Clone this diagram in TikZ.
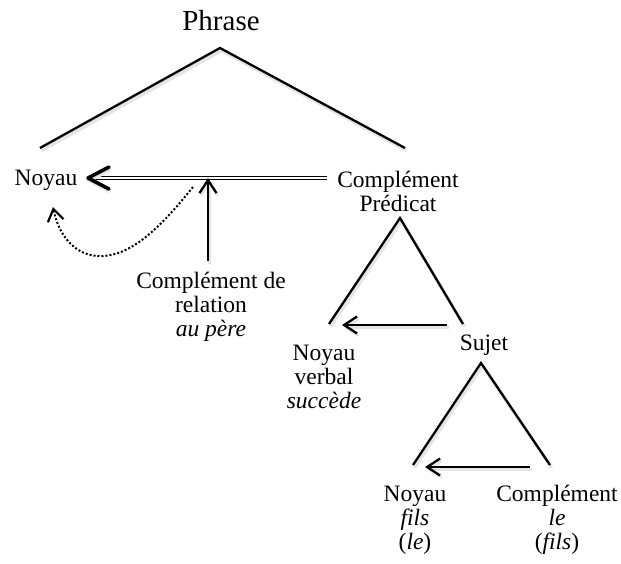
\documentclass[tikz,border=0pt]{standalone}
\usepackage{fontspec}
\setmainfont{Liberation Serif}
\usetikzlibrary{arrows.meta,calc}
\begin{document}
\begin{tikzpicture}[x=1pt,y=-1pt,
  lbl/.style={font=\fontsize{23.5}{24}\selectfont, align=center, inner sep=0pt},
  big/.style={font=\fontsize{29}{29}\selectfont, inner sep=0pt},
  soft/.style={preaction={draw=black!10, line width=3.6pt,
    transform canvas={shift={(1.5pt,-2.5pt)}}}},
  branch/.style={soft, line width=2.3pt},
  link/.style={soft, line width=2.3pt,
    -{Straight Barb[length=13pt,width=17pt,line width=2.3pt]}},
  rel/.style={line width=1pt, double, double distance=1.6pt},
  dep/.style={line width=2pt, dash pattern=on 2pt off 2pt,
    -{Straight Barb[length=12pt,width=16pt,line width=2.2pt]}}]
\useasboundingbox (0,0) rectangle (621,563);

% labels
\node[big] (phrase) at (221,21) {Phrase};
\node[lbl] (noyau) at (46,180) {Noyau};
\node[lbl] (cp) at (398,191) {Complément\\Prédicat};
\node[lbl] (crel) at (211,307) {Complément de\\relation\\\textit{au père}};
\node[lbl] (nv) at (324,377) {Noyau\\verbal\\\textit{succède}};
\node[lbl] (sujet) at (484,345) {Sujet};
\node[lbl] (nf) at (415,520) {Noyau\\\textit{fils}\\(\textit{le})};
\node[lbl] (cf) at (557,520) {Complément\\\textit{le}\\(\textit{fils})};

% branching points
\coordinate (top1) at (220,48);
\coordinate (l1) at (40,148);
\coordinate (r1) at (405,148);
\coordinate (top2) at (400,218);
\coordinate (l2) at (329,324);
\coordinate (r2) at (463,324);
\coordinate (top3) at (481,363);
\coordinate (l3) at (413,465);
\coordinate (r3) at (550,465);

\draw[branch] (l1) -- (top1) -- (r1);
\draw[branch] (l2) -- (top2) -- (r2);
\draw[branch] (l3) -- (top3) -- (r3);

% relation of the predicate complement to the nucleus
\coordinate (hd) at (88,178);
\coordinate (jn) at (208,178);
\draw[rel] ($(cp.west)+(-10,-13)$) -- ($(hd)+(6,0)$);
\draw[soft, line width=3.6pt, line cap=round, line join=round]
  ($(hd)+(21,-11)$) -- (hd) -- ($(hd)+(21,11)$);

% relation complement joining the link
\draw[link] ($(crel.north)+(-3,-11)$) -- (jn);

% dotted return to the nucleus
\draw[dep] (193,187) .. controls (160,228) and (130,258) .. (97,256)
  .. controls (72,254) and (58,232) .. (53,207);

% inner links
\draw[link] (447,325) -- (342,325);
\draw[link] (530,467) -- (425,467);
\end{tikzpicture}
\end{document}
